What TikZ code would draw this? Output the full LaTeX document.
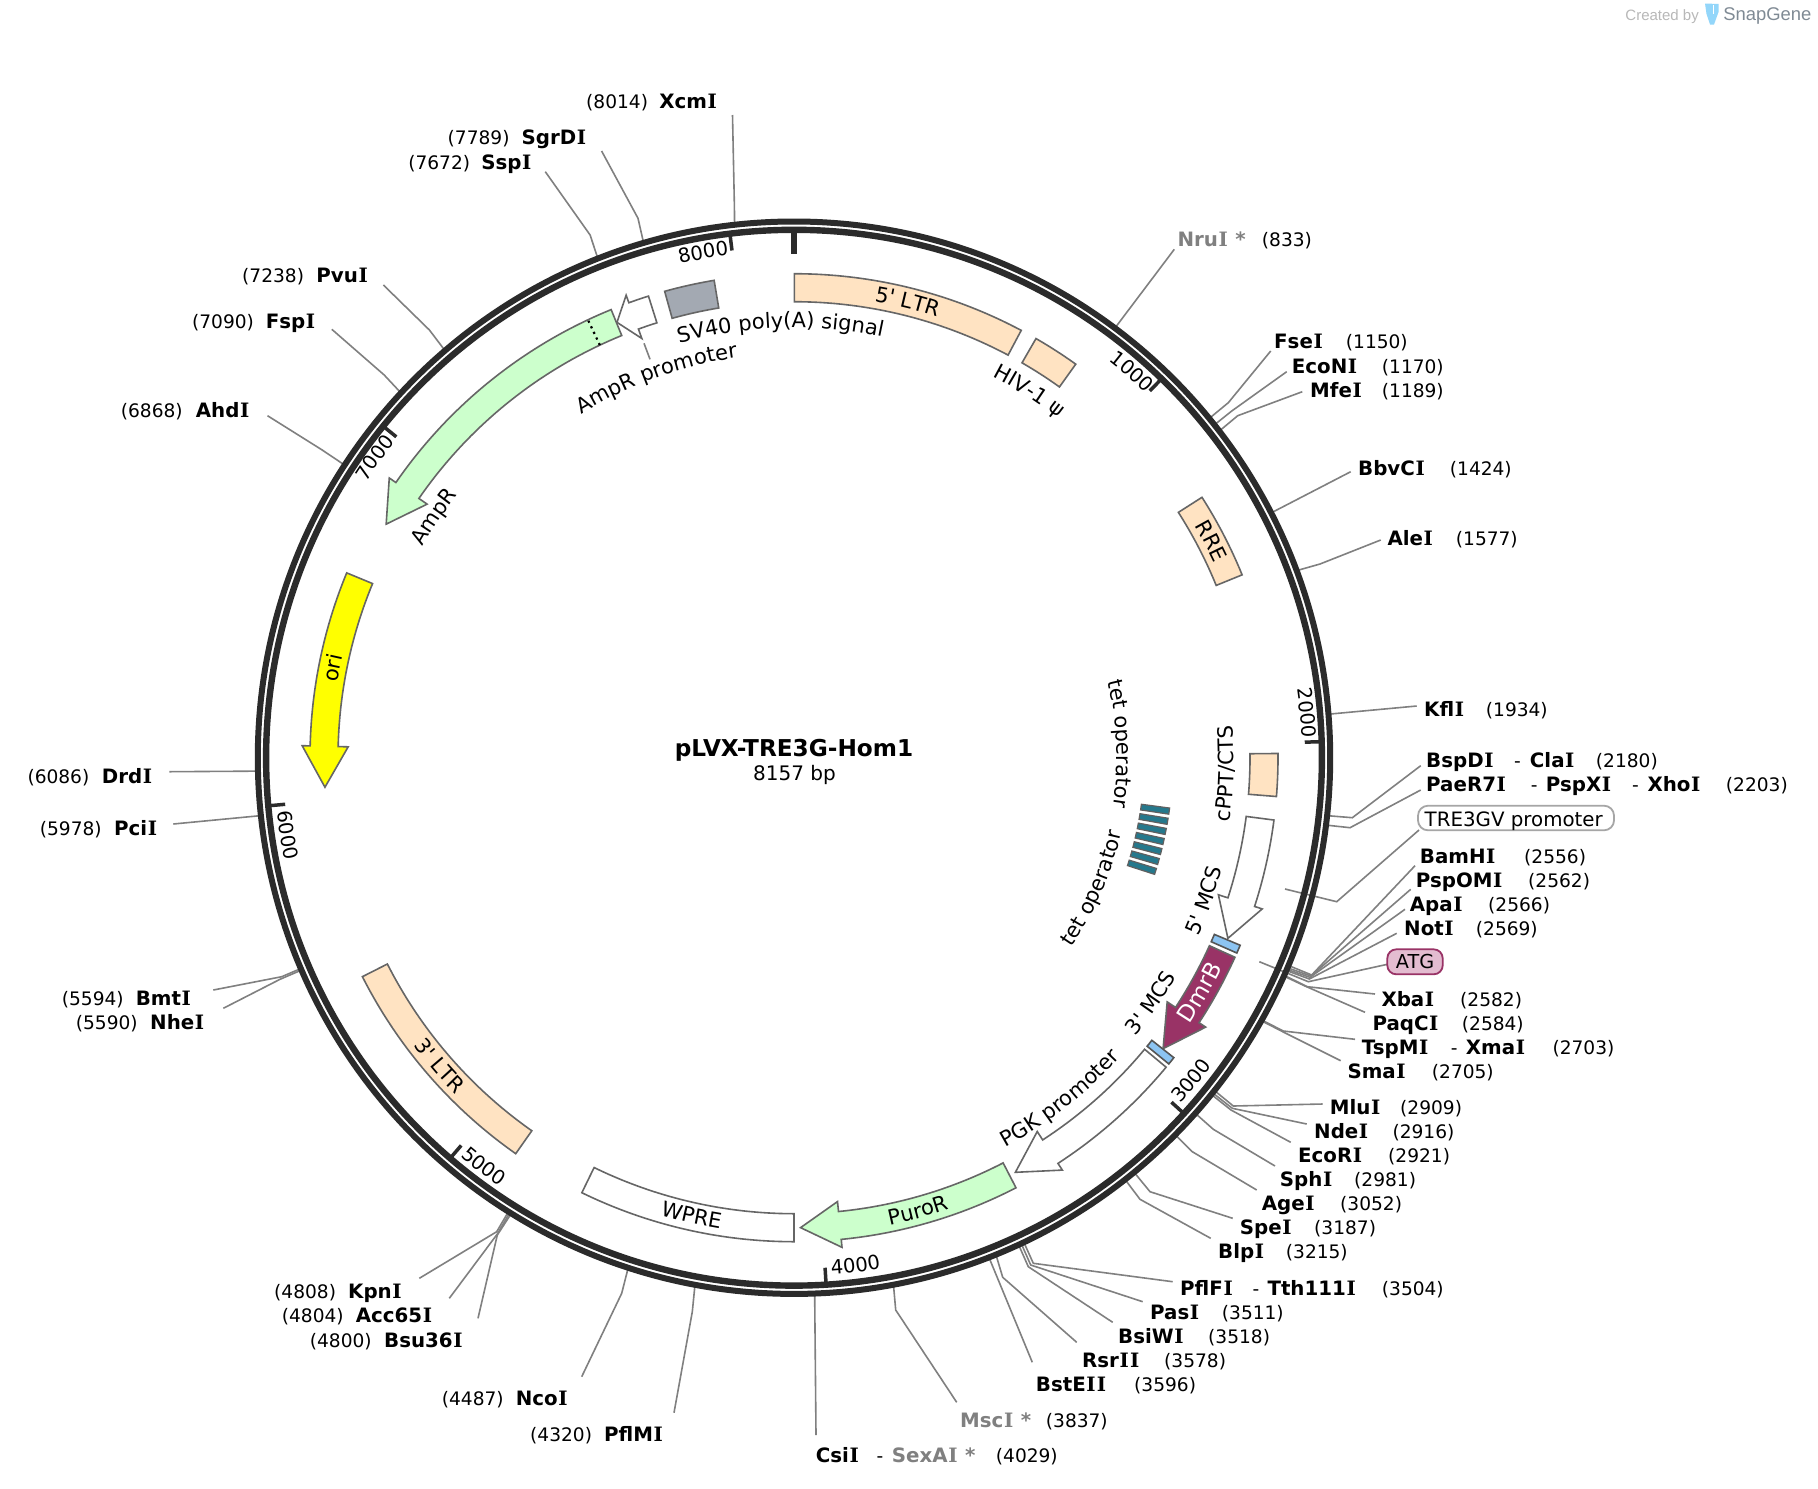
\documentclass[tikz,border=0pt]{standalone}
\usepackage{fontspec}
\usetikzlibrary{decorations.text}
\newfontfamily\dvf{DejaVu Sans}
\newfontfamily\dvs{DejaVu Serif}
\newfontfamily\libf{Liberation Sans}
\setmainfont{DejaVu Sans}
\newcommand{\sI}{\kern.03em{\dvs I}\kern.03em}
\definecolor{ringc}{HTML}{2B2B2B}
\definecolor{edgec}{HTML}{666666}
\definecolor{connc}{HTML}{808080}
\definecolor{peach}{HTML}{FFE3C2}
\definecolor{mint}{HTML}{CCFFCC}
\definecolor{svgray}{HTML}{A3A9B2}
\definecolor{dmr}{HTML}{993366}
\definecolor{mcsblue}{HTML}{8CC4F2}
\definecolor{tetc}{HTML}{25788C}
\definecolor{atgf}{HTML}{E3BCD0}
\definecolor{atgd}{HTML}{993366}
\definecolor{yel}{RGB}{255,255,0}
\definecolor{icon}{HTML}{93D6FA}
\definecolor{snapc}{HTML}{7F8A94}
\def\featf{\dvf\fontsize{10.5}{12}\selectfont}
\def\dmrf{\dvf\fontsize{11.5}{13}\selectfont\color{white}}
\def\tickf{\dvf\fontsize{9.8}{11}\selectfont}
\tikzset{
  conn/.style={draw=connc,line width=0.8pt},
  feat/.style={draw=edgec,line width=0.8pt,line join=miter},
  nameb/.style={anchor=base west,inner sep=0pt,xshift=-0.6pt,yshift=-0.5pt,font=\dvf\bfseries\fontsize{9.9}{12}\selectfont,text=black},
  nameg/.style={nameb,text=connc},
  numb/.style={anchor=base west,inner sep=0pt,xshift=-0.6pt,yshift=-0.5pt,font=\dvf\fontsize{9.3}{12}\selectfont,text=black},
  tickmark/.style={draw=ringc,line width=1.75pt},
}
\newcommand{\Bn}[4]{\node[nameb] (#1) at (#2,#3) {#4};}
\newcommand{\Gn}[4]{\node[nameg] (#1) at (#2,#3) {#4};}
\newcommand{\Rn}[4]{\node[numb] (#1) at (#2,#3) {#4};}
\newcommand{\cutq}[4]{\coordinate (#1r) at ([shift={({#2*0.04413387-90}:537)}]C); \coordinate (#1e) at (#3); \coordinate (#1o) at (#4); \draw[conn] (#1r)--(#1e)--(#1o);}
\newcommand{\cutr}[3]{\coordinate (#1r) at ([shift={({#2*0.04413387-90}:537)}]C); \coordinate (#1o) at (#3); \draw[conn] (#1r)--(#1o);}
% curved labels: centre angle, radius, format, text
\newcommand{\lcw}[4]{\pgfmathsetmacro\aA{#1-90-45}\pgfmathsetmacro\aB{#1-90+45}%
  \path[decorate,decoration={text along path,text align=center,text={|#3|#4}}] plot[domain=\aA:\aB,samples=91] (\x:#2);}
\newcommand{\lccw}[4]{\pgfmathsetmacro\aA{#1-90+45}\pgfmathsetmacro\aB{#1-90-45}%
  \path[decorate,decoration={text along path,text align=center,text={|#3|#4}}] plot[domain=\aA:\aB,samples=91] (\x:#2);}
\newcommand{\fbar}[3]{\pgfmathsetmacro\aA{#2-90}\pgfmathsetmacro\aB{#3-90}%
  \draw[feat,#1] plot[domain=\aA:\aB,samples=40] (\x:484) -- plot[domain=\aB:\aA,samples=40] (\x:456) -- cycle;}
\newcommand{\farrow}[4]{\pgfmathsetmacro\aA{#2-90}\pgfmathsetmacro\aB{#3-90}\pgfmathsetmacro\aC{#4-90}%
  \draw[feat,#1] plot[domain=\aA:\aB,samples=40] (\x:484) -- (\aB:492) -- (\aC:470) -- (\aB:446) -- (\aB:456) -- plot[domain=\aB:\aA,samples=40] (\x:456) -- cycle;}
\begin{document}
\begin{tikzpicture}[x=0.5pt,y=-0.5pt]
\useasboundingbox[fill=white] (0,0) rectangle (1818,1488);
\coordinate (C) at (794,757.7);

% --- connectors (under the ring) ---
\cutr{nru}{833}{1174.3,249.3}
\cutq{fse}{1150}{1228.3,402.7}{1270.7,351}
\cutq{econ}{1170}{1231.7,411}{1286.7,371.7}
\cutq{mfe}{1189}{1237.7,415.7}{1302.3,391.7}
\cutr{bbv}{1424}{1350.7,471.7}
\cutq{ale}{1577}{1320,564}{1380.7,540}
\cutr{kfl}{1934}{1416.7,706}
\cutq{bsp}{2180}{1352.3,817.7}{1420.7,765.7}
\cutq{pae}{2203}{1350,827.7}{1420.7,790}
\coordinate (trer) at (1285,889); \coordinate (tree) at (1336.7,901.7); \coordinate (treo) at (1419,830);
\draw[conn] (trer)--(tree)--(treo);
\cutq{bam}{2556}{1311.7,975}{1415,865.7}
\cutq{psp}{2562}{1311,976}{1410.7,889.3}
\cutq{apa}{2566}{1310,977.3}{1405,909.3}
\cutq{not}{2569}{1309.3,979}{1396.7,933.3}
\coordinate (atgr) at (1259.3,961.7); \coordinate (atge) at (1308.3,981.7); \coordinate (atgo) at (1387.3,964.3);
\draw[conn] (atgr)--(atge)--(atgo);
\cutq{xba}{2582}{1307.3,986.7}{1375,994}
\cutq{paq}{2584}{1305,986}{1365,1012.3}
\cutq{tsp}{2703}{1283.3,1031}{1355,1039.3}
\cutq{sma}{2705}{1282.7,1031.7}{1340.7,1060.7}
\cutq{mlu}{2909}{1233.3,1106}{1322.7,1104}
\cutq{nde}{2916}{1232.3,1108.3}{1306.7,1124}
\cutq{ecor}{2921}{1231,1110}{1290.7,1142.3}
\cutq{sph}{2981}{1213.3,1129.3}{1275,1166}
\cutq{age}{3052}{1192.3,1151.7}{1256.7,1190}
\cutq{spe}{3187}{1150,1191.7}{1232.7,1218.3}
\cutq{blp}{3215}{1140,1199.3}{1210.7,1238.3}
\cutq{pfl}{3504}{1033.3,1263.3}{1172.7,1281.7}
\cutq{pas}{3511}{1030.7,1265}{1142.7,1301.7}
\cutq{bsi}{3518}{1028.3,1266.7}{1112.7,1322.3}
\cutq{rsr}{3578}{1002.7,1277.3}{1076.7,1342.3}
\cutr{bst}{3596}{1032.3,1362.3}
\cutq{msc}{3837}{895.7,1310}{956.7,1402.3}
\cutr{csi}{4029}{816,1435}
\cutq{pflm}{4320}{692.3,1311.7}{674,1412.7}
\cutq{nco}{4487}{621.7,1293.3}{581.7,1376.7}
\cutq{kpn}{4808}{496.7,1231.7}{419.3,1278.3}
\cutq{acc}{4804}{497.3,1234}{449.3,1298.3}
\cutq{bsu}{4800}{497.3,1235}{478,1318.3}
\cutq{nhe}{5590}{280,979.3}{223.3,1008.3}
\cutq{bmt}{5594}{281.7,976.7}{213.3,990}
\cutr{pci}{5978}{173.3,824}
\cutr{drd}{6086}{169.3,771.7}
\cutq{ahd}{6868}{322.2,450}{267.5,415.7}
\cutq{fsp}{7090}{384.2,375}{331.8,329.3}
\cutq{pvu}{7238}{429.4,330}{383.4,285}
\cutq{ssp}{7672}{590.1,235}{545.3,171.7}
\cutq{sgr}{7789}{638,218.3}{601.6,151}
\cutq{xcm}{8014}{734.4,206.7}{732.5,115}

\begin{scope}[shift={(794,757.7)}]
% --- ring ---
\draw[ringc,line width=3pt] (0,0) circle (536.2);
\draw[ringc,line width=3.2pt] (0,0) circle (527.9);
% --- ticks ---
\foreach \p in {1000,2000,...,8000}{
  \pgfmathsetmacro\aT{\p*0.04413387-90}
  \draw[tickmark] (\aT:526) -- (\aT:511);
}
\draw[ringc,line width=3pt] (-90:526) -- (-90:504);
\lcw{41.2}{506.5}{\tickf}{1000}
\lcw{85}{508}{\tickf}{2000}
\lccw{129.1}{519}{\tickf}{3000}
\lccw{173.1}{518.5}{\tickf}{4000}
\lccw{217.2}{520}{\tickf}{5000}
\lccw{261.3}{519.5}{\tickf}{6000}
\lcw{305.6}{509}{\tickf}{7000}
\lcw{349.8}{507}{\tickf}{8000}

% --- features ---
\fbar{fill=peach}{0.05}{28}
\fbar{fill=peach}{30}{35.6}
\fbar{fill=peach}{57.45}{67.8}
\fbar{fill=peach}{89.5}{94.6}
\farrow{fill=white}{97.4}{107.9}{112.6}
\fbar{fill=mcsblue,draw=ringc!80}{112.8}{113.8}
\farrow{fill=dmr}{114.35}{123.2}{128.25}
\fbar{fill=mcsblue,draw=ringc!80}{128.3}{129.25}
\farrow{fill=white}{129.75}{146.95}{151.9}
\farrow{fill=mint}{152.7}{174.4}{179.2}
\fbar{fill=white}{180}{206}
\fbar{fill=peach}{215.1}{243.1}
\farrow{fill=yel}{292.45}{271.4}{266.4}
\farrow{fill=mint}{337.8}{304.65}{299.8}
\draw[black,line width=1.1pt,dotted] (244.8:456) -- (244.8:484);
\farrow{fill=white}{342.5}{340.05}{337.87}
\fbar{fill=svgray}{344.5}{350.5}

% tet operator stripes
\foreach \i in {0,...,6}{
  \pgfmathsetmacro\aT{98.1+1.56*\i-90}
  \pgfmathsetmacro\aL{\aT-0.47}
  \pgfmathsetmacro\aH{\aT+0.47}
  \draw[fill=tetc,draw=ringc!75,line width=0.6pt] (\aL:350.5) -- (\aL:379) -- (\aH:379) -- (\aH:350.5) -- cycle;
}

% --- feature labels ---
\lcw{14}{463.5}{\featf}{5' LTR}
\lcw{32.7}{430}{\featf}{HIV-1 ψ}
\lcw{62.6}{463}{\featf}{RRE}
\lccw{92.1}{440}{\featf}{cPPT/CTS}
\lcw{87.5}{323}{\featf}{tet operator}
\lccw{113.6}{336}{\featf}{tet operator}
\lccw{109.2}{442}{\featf}{5' MCS}
\lccw{124.5}{441}{\featf}{3' MCS}
\lccw{120}{477}{\dmrf}{DmrB}
\lccw{142}{443}{\featf}{PGK promoter}
\lccw{164.7}{477}{\featf}{PuroR}
\lccw{192.6}{476.5}{\featf}{WPRE}
\lccw{229}{477}{\featf}{3' LTR}
\lcw{281}{463}{\featf}{ori}
\lcw{303.8}{427}{\featf}{AmpR}
\lcw{340.1}{404}{\featf}{AmpR promoter}
\lcw{358.2}{430}{\featf}{SV40 poly(A) signal}
\end{scope}

% AmpR promoter leader
\coordinate (ampa) at (644,343.3); \coordinate (ampb) at (650,359.3);
\draw[conn] (ampa)--(ampb);

% --- centre title ---
\node[inner sep=0pt,anchor=base,font=\dvf\bfseries\fontsize{11.6}{13}\selectfont] (title) at (794,756) {pLVX-TRE3G-Hom1};
\node[inner sep=0pt,anchor=base,font=\dvf\fontsize{10}{12}\selectfont] (size) at (794.5,780) {8157 bp};

% --- right-hand labels ---
\Gn{Nnru}{1178.3}{245.7}{Nru\sI{} *} \Rn{Pnru}{1262.7}{245.7}{(833)}
\Bn{Nfse}{1275}{347.7}{Fse\sI} \Rn{Pfse}{1346.7}{347.7}{(1150)}
\Bn{Necon}{1292.7}{372}{EcoN\sI} \Rn{Pecon}{1382.7}{372}{(1170)}
\Bn{Nmfe}{1311}{396}{Mfe\sI} \Rn{Pmfe}{1382.7}{396}{(1189)}
\Bn{Nbbv}{1359}{474}{BbvC\sI} \Rn{Pbbv}{1450.7}{474}{(1424)}
\Bn{Nale}{1388.3}{544}{Ale\sI} \Rn{Pale}{1456.7}{544}{(1577)}
\Bn{Nkfl}{1425}{715.7}{Kfl\sI} \Rn{Pkfl}{1486.7}{715.7}{(1934)}
\Bn{Nbsp}{1427}{766}{BspD\sI} \Rn{Dbsp}{1515}{766}{-} \Bn{Ncla}{1530.7}{766}{Cla\sI} \Rn{Pbsp}{1596.7}{766}{(2180)}
\Bn{Npae}{1427}{790}{PaeR7\sI} \Rn{Dpae}{1531.7}{790}{-} \Bn{Npspx}{1546.7}{790}{PspX\sI} \Rn{Dpspx}{1633}{790}{-} \Bn{Nxho}{1648.3}{790}{Xho\sI} \Rn{Ppae}{1726.7}{790}{(2203)}
\node[draw=black!35,line width=0.9pt,rounded corners=5pt,fill=white,minimum width=98pt,minimum height=12.3pt,inner sep=0pt] (Ntre) at (1516,818) {};
\node[anchor=base west,inner sep=0pt,font=\dvf\fontsize{9.9}{12}\selectfont] (Ttre) at (1424.3,826) {TRE3GV promoter};
\Bn{Nbam}{1420.7}{862.3}{BamH\sI} \Rn{Pbam}{1525}{862.3}{(2556)}
\Bn{Npsp}{1416.7}{886}{PspOM\sI} \Rn{Ppsp}{1529}{886}{(2562)}
\Bn{Napa}{1410.7}{910}{Apa\sI} \Rn{Papa}{1489}{910}{(2566)}
\Bn{Nnot}{1405}{934}{Not\sI} \Rn{Pnot}{1476.7}{934}{(2569)}
\node[draw=atgd,fill=atgf,line width=0.9pt,rounded corners=4.5pt,minimum width=27.7pt,minimum height=12.5pt,inner sep=0pt,font=\dvf\fontsize{9.6}{11}\selectfont] (Natg) at (1415,961.8) {ATG};
\Bn{Nxba}{1382.3}{1005.3}{Xba\sI} \Rn{Pxba}{1461}{1005.3}{(2582)}
\Bn{Npaq}{1373.3}{1029.3}{PaqC\sI} \Rn{Ppaq}{1462.7}{1029.3}{(2584)}
\Bn{Ntsp}{1362.7}{1053.3}{TspM\sI} \Rn{Dtsp}{1451.7}{1053.3}{-} \Bn{Nxma}{1466.7}{1053.3}{Xma\sI} \Rn{Ptsp}{1553.3}{1053.3}{(2703)}
\Bn{Nsma}{1348.3}{1077.3}{Sma\sI} \Rn{Psma}{1432.7}{1077.3}{(2705)}
\Bn{Nmlu}{1330.7}{1113.3}{Mlu\sI} \Rn{Pmlu}{1401}{1113.3}{(2909)}
\Bn{Nnde}{1315}{1137.3}{Nde\sI} \Rn{Pnde}{1393.3}{1137.3}{(2916)}
\Bn{Necor}{1299}{1161.7}{EcoR\sI} \Rn{Pecor}{1389}{1161.7}{(2921)}
\Bn{Nsph}{1280.7}{1185.7}{Sph\sI} \Rn{Psph}{1355}{1185.7}{(2981)}
\Bn{Nage}{1262.7}{1209.7}{Age\sI} \Rn{Page}{1341}{1209.7}{(3052)}
\Bn{Nspe}{1240.7}{1233.3}{Spe\sI} \Rn{Pspe}{1315}{1233.3}{(3187)}
\Bn{Nblp}{1219}{1257.7}{Blp\sI} \Rn{Pblp}{1286.7}{1257.7}{(3215)}
\Bn{Npfl}{1181}{1294}{PflF\sI} \Rn{Dpfl}{1253.3}{1294}{-} \Bn{Ntth}{1268.3}{1294}{Tth111\sI} \Rn{Ppfl}{1382.7}{1294}{(3504)}
\Bn{Npas}{1151}{1318}{Pas\sI} \Rn{Ppas}{1222.7}{1318}{(3511)}
\Bn{Nbsi}{1119}{1342}{BsiW\sI} \Rn{Pbsi}{1209}{1342}{(3518)}
\Bn{Nrsr}{1083}{1366}{Rsr\sI\sI} \Rn{Prsr}{1165}{1366}{(3578)}
\Bn{Nbst}{1036.7}{1390}{BstE\sI\sI} \Rn{Pbst}{1135}{1390}{(3596)}
\Gn{Nmsc}{961}{1426}{Msc\sI{} *} \Rn{Pmsc}{1046.7}{1426}{(3837)}
\Bn{Ncsi}{816.7}{1461.7}{Csi\sI} \Rn{Dcsi}{877.3}{1461.7}{-} \Gn{Nsex}{892.7}{1461.7}{SexA\sI{} *} \Rn{Pcsi}{996.7}{1461.7}{(4029)}

% --- left-hand labels ---
\Rn{Ppflm}{531}{1440}{(4320)} \Bn{Npflm}{605}{1440}{PflM\sI}
\Rn{Pnco}{442.7}{1404}{(4487)} \Bn{Nnco}{516.7}{1404}{Nco\sI}
\Rn{Pbsu}{310.7}{1346}{(4800)} \Bn{Nbsu}{385}{1346}{Bsu36\sI}
\Rn{Pacc}{282.7}{1321.7}{(4804)} \Bn{Nacc}{356.7}{1321.7}{Acc65\sI}
\Rn{Pkpn}{275}{1297.7}{(4808)} \Bn{Nkpn}{349}{1297.7}{Kpn\sI}
\Rn{Pnhe}{76.7}{1028}{(5590)} \Bn{Nnhe}{151}{1028}{Nhe\sI}
\Rn{Pbmt}{62.7}{1004}{(5594)} \Bn{Nbmt}{136.7}{1004}{Bmt\sI}
\Rn{Ppci}{40.7}{834}{(5978)} \Bn{Npci}{115}{834}{Pci\sI}
\Rn{Pdrd}{28.3}{782}{(6086)} \Bn{Ndrd}{102.7}{782}{Drd\sI}
\Rn{Pahd}{121.7}{416}{(6868)} \Bn{Nahd}{196.7}{416}{Ahd\sI}
\Rn{Pfsp}{192.9}{327.7}{(7090)} \Bn{Nfsp}{266.7}{327.7}{Fsp\sI}
\Rn{Ppvu}{243}{281.7}{(7238)} \Bn{Npvu}{317.2}{281.7}{Pvu\sI}
\Rn{Pssp}{409.1}{168}{(7672)} \Bn{Nssp}{482.2}{168}{Ssp\sI}
\Rn{Psgr}{448.5}{143.7}{(7789)} \Bn{Nsgr}{522.4}{143.7}{SgrD\sI}
\Rn{Pxcm}{587}{107.7}{(8014)} \Bn{Nxcm}{660.1}{107.7}{Xcm\sI}

% --- credit ---
\node[anchor=base west,inner sep=0pt,text=black!28,font=\libf\fontsize{7.5}{9}\selectfont] (cred) at (1625,20.5) {Created by};
\fill[icon] (1705,3.5) -- (1718.5,4) -- (1718.5,12) -- (1714,24.5) -- (1710,24.5) -- (1706.5,14) -- cycle;
\draw[white,line width=0.5pt] (1713.5,5) -- (1713.5,14);
\node[anchor=base west,inner sep=0pt,text=snapc,font=\libf\fontsize{9.2}{11}\selectfont] (snap) at (1723,20.5) {SnapGene};
\end{tikzpicture}
\end{document}
